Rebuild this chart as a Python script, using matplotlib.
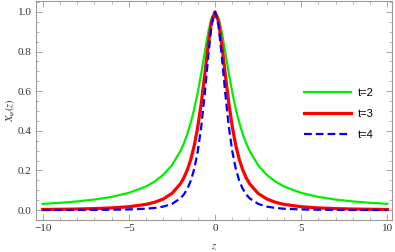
import matplotlib
matplotlib.use('Agg')
import matplotlib.pyplot as plt
from matplotlib.ticker import MultipleLocator

plt.rcParams['font.family'] = ['Liberation Serif', 'DejaVu Serif']
plt.rcParams['mathtext.fontset'] = 'stix'

# values (curves are symmetric about z = 0)
z = [-10, -9, -8, -7, -6, -5, -4, -3.5, -3, -2.5, -2, -1.8, -1.6, -1.4, -1.2, -1.0,
     -0.8, -0.6, -0.4, -0.2, 0, 0.2, 0.4, 0.6, 0.8, 1.0, 1.2, 1.4, 1.6, 1.8, 2, 2.5,
     3, 3.5, 4, 5, 6, 7, 8, 9, 10]
x_t2 = [0.0314, 0.0367, 0.0437, 0.0532, 0.0666, 0.0868, 0.1194, 0.1440, 0.1778, 0.2264,
        0.2991, 0.3385, 0.3859, 0.4431, 0.5122, 0.5946, 0.6900, 0.7941, 0.8947, 0.9710,
        1.0,
        0.9710, 0.8947, 0.7941, 0.6900, 0.5946, 0.5122, 0.4431, 0.3859, 0.3385, 0.2991,
        0.2264, 0.1778, 0.1440, 0.1194, 0.0868, 0.0666, 0.0532, 0.0437, 0.0367, 0.0314]
x_t3 = [0.0031, 0.0041, 0.0054, 0.0075, 0.0110, 0.0170, 0.0290, 0.0396, 0.0562, 0.0841,
        0.1337, 0.1644, 0.2045, 0.2576, 0.3279, 0.4204, 0.5388, 0.6809, 0.8307, 0.9522,
        1.0,
        0.9522, 0.8307, 0.6809, 0.5388, 0.4204, 0.3279, 0.2576, 0.2045, 0.1644, 0.1337,
        0.0841, 0.0562, 0.0396, 0.0290, 0.0170, 0.0110, 0.0075, 0.0054, 0.0041, 0.0031]
x_t4 = [0.0003, 0.0005, 0.0007, 0.0011, 0.0018, 0.0033, 0.0070, 0.0109, 0.0178, 0.0312,
        0.0598, 0.0798, 0.1084, 0.1497, 0.2099, 0.2973, 0.4207, 0.5839, 0.7712, 0.9337,
        1.0,
        0.9337, 0.7712, 0.5839, 0.4207, 0.2973, 0.2099, 0.1497, 0.1084, 0.0798, 0.0598,
        0.0312, 0.0178, 0.0109, 0.0070, 0.0033, 0.0018, 0.0011, 0.0007, 0.0005, 0.0003]

fig = plt.figure(figsize=(3.95, 2.52), dpi=100)
ax = fig.add_axes([36 / 395, 1 - 220 / 252, 356 / 395, 219 / 252])

ax.plot(z, x_t2, color='#00ee00', lw=1.6, label='t=2')
ax.plot(z, x_t3, color='#ff0000', lw=2.3, label='t=3')
ax.plot(z, x_t4, color='#0000ff', lw=1.6, ls=(0, (3.5, 1.8)), label='t=4')

ax.set_xlim(-10.39, 10.27)
ax.set_ylim(-0.05, 1.055)
ax.xaxis.set_major_locator(MultipleLocator(5))
ax.xaxis.set_minor_locator(MultipleLocator(1))
ax.yaxis.set_major_locator(MultipleLocator(0.2))
ax.yaxis.set_minor_locator(MultipleLocator(0.05))
ax.yaxis.set_major_formatter(plt.FuncFormatter(lambda v, p: '%.1f' % v))
ax.xaxis.set_major_formatter(plt.FuncFormatter(lambda v, p: ('\u2212%d' % -v) if v < 0 else '%d' % v))

grey = '#999999'
for s in ax.spines.values():
    s.set_color(grey)
    s.set_linewidth(0.8)
ax.tick_params(which='both', direction='in', top=True, right=True, color=grey,
               labelsize=8, labelcolor='#333333')
ax.tick_params(which='major', length=4, width=0.6, pad=3)
ax.tick_params(which='minor', length=2, width=0.5)

ax.set_xlabel('$z$', fontsize=8, color='#333333', labelpad=7)
ax.set_ylabel(r'$X_{\psi}(z)$', fontsize=7.5, color='#333333', labelpad=0)

ax.legend(loc='upper left', bbox_to_anchor=(0.725, 0.65), frameon=False,
          handlelength=4.2, handletextpad=0.6, labelspacing=1.0,
          prop={'family': 'Liberation Sans', 'size': 8})

fig.savefig('out.png', dpi=100)
